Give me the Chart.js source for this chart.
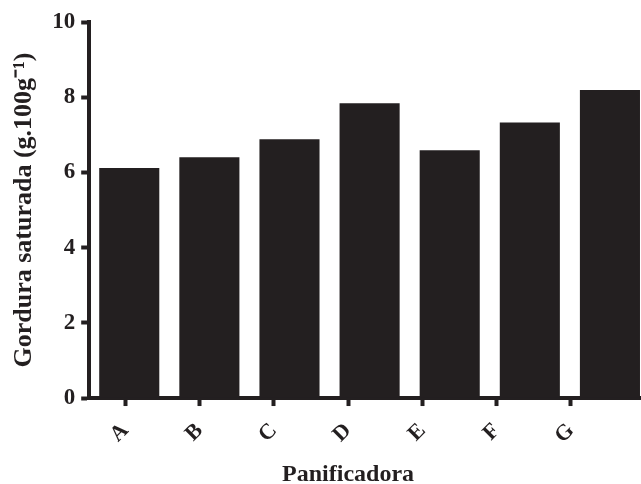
<!DOCTYPE html>
<html>
<head>
<meta charset="utf-8">
<script src="https://cdn.jsdelivr.net/npm/chart.js@4/dist/chart.umd.min.js"></script>
<style>
html,body{margin:0;padding:0;overflow:hidden;background:#fff;width:641px;height:484px;}
canvas{display:block;}
</style>
</head>
<body>
<canvas id="c" width="696" height="484"></canvas>
<script>
const categories = ['A','B','C','D','E','F','G'];
const values = [6.12, 6.40, 6.88, 7.84, 6.59, 7.33, 8.19];
const yTicks = [0, 2, 4, 6, 8, 10];
const xTitle = 'Panificadora';
const yTitle = 'Gordura saturada (g.100g\u207B\u00B9)';

const ink = '#231f20';
const fontFam = "'Liberation Serif', 'Times New Roman', serif";

// Center the bottom title under the labelled tick range
const centerTitle = {
  id: 'centerTitle',
  afterLayout(chart) {
    const tb = chart.titleBlock, x2 = chart.scales.x2;
    if (!tb || !x2) return;
    const c = (x2.getPixelForValue(0) + x2.getPixelForValue(categories.length - 1)) / 2;
    const w = tb.right - tb.left;
    tb.left = c - w / 2;
    tb.right = c + w / 2;
  }
};

new Chart(document.getElementById('c'), {
  type: 'bar',
  data: {
    labels: categories,
    datasets: [{
      data: values,
      backgroundColor: ink,
      borderWidth: 0,
      barPercentage: 0.75,
      categoryPercentage: 1.0
    }]
  },
  plugins: [centerTitle],
  options: {
    responsive: false,
    animation: false,
    devicePixelRatio: 1,
    layout: { padding: { top: 22, right: 46, left: 9, bottom: 0 } },
    plugins: {
      legend: { display: false },
      tooltip: { enabled: false },
      title: {
        display: true,
        text: xTitle,
        position: 'bottom',
        color: ink,
        font: { family: fontFam, size: 24, weight: 'bold', lineHeight: 0.8 },
        padding: { top: 4, bottom: 0 }
      }
    },
    scales: {
      x: {
        type: 'category',
        display: false,
        offset: true
      },
      x2: {
        type: 'linear',
        position: 'bottom',
        offset: false,
        min: -0.4854,
        max: 7.066,
        afterBuildTicks: (axis) => { axis.ticks = categories.map((c, i) => ({ value: i })); },
        grid: { offset: false, drawOnChartArea: false, drawTicks: true, tickLength: 8, tickWidth: 4, tickColor: ink },
        border: { display: true, width: 4, color: ink },
        ticks: {
          color: ink,
          autoSkip: false,
          minRotation: 45,
          maxRotation: 45,
          padding: 12,
          font: { family: fontFam, size: 22, weight: 'bold' },
          callback: (v) => categories[v] !== undefined ? categories[v] : ''
        }
      },
      y: {
        min: 0,
        max: 10,
        afterBuildTicks: (axis) => { axis.ticks = yTicks.map(v => ({ value: v })); },
        grid: { drawOnChartArea: false, drawTicks: true, tickLength: 8, tickWidth: 4, tickColor: ink },
        border: { display: true, width: 4, color: ink },
        ticks: {
          color: ink,
          padding: 6,
          font: { family: fontFam, size: 23, weight: 'bold' }
        },
        title: {
          display: true,
          text: yTitle,
          color: ink,
          font: { family: fontFam, size: 26, weight: 'bold' },
          padding: { top: 0, bottom: 6 }
        }
      }
    }
  }
});
</script>
</body>
</html>
